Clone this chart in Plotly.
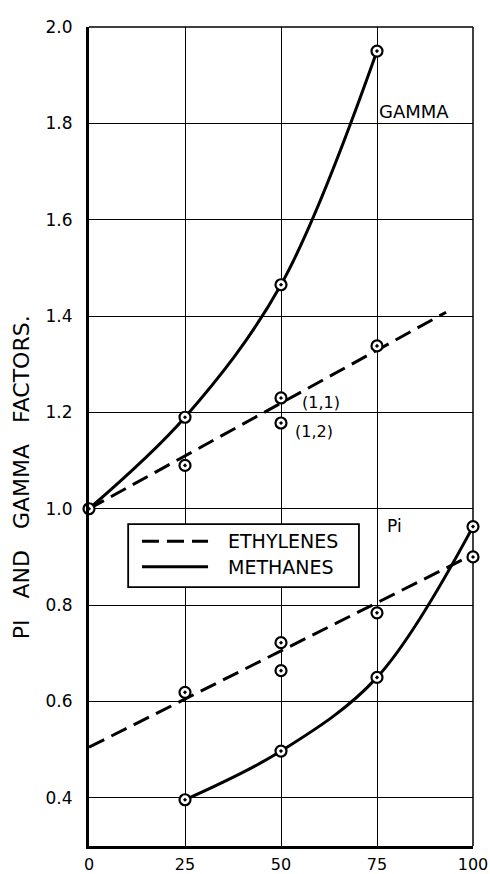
import plotly.graph_objects as go

# Concentration axis (percent) and measured factors
conc = [0, 25, 50, 75, 100]

# Gamma factors
gamma_methane_x = [0, 25, 50, 75]
gamma_methane_y = [1.00, 1.19, 1.465, 1.95]
gamma_ethylene_x = [25, 50, 50, 75]
gamma_ethylene_y = [1.09, 1.23, 1.178, 1.338]
gamma_ethylene_fit_x = [0, 93]
gamma_ethylene_fit_y = [1.00, 1.408]

# Pi factors
pi_methane_x = [25, 50, 75, 100]
pi_methane_y = [0.396, 0.497, 0.65, 0.963]
pi_ethylene_x = [25, 50, 50, 75, 100]
pi_ethylene_y = [0.619, 0.722, 0.664, 0.784, 0.90]
pi_ethylene_fit_x = [0, 100]
pi_ethylene_fit_y = [0.505, 0.905]

y_ticks = [0.4, 0.6, 0.8, 1.0, 1.2, 1.4, 1.6, 1.8, 2.0]
y_tick_text = ["0.4", "0.6", "0.8", "1.0", "1.2", "1.4", "1.6", "1.8", "2.0"]
x_tick_text = ["0", "25", "50", "75", "100"]

FONT = "DejaVu Sans"
INK = "black"
DASH = "17px,8px"

marker_style = dict(symbol="circle-dot", size=11, color="white",
                    line=dict(color=INK, width=2.2))

fig = go.Figure()

# Curves and fitted lines
fig.add_trace(go.Scatter(x=gamma_methane_x, y=gamma_methane_y, mode="lines",
                         line=dict(color=INK, width=3, shape="spline", smoothing=1.0),
                         hoverinfo="skip"))
fig.add_trace(go.Scatter(x=gamma_ethylene_fit_x, y=gamma_ethylene_fit_y, mode="lines",
                         line=dict(color=INK, width=3, dash=DASH), hoverinfo="skip"))
fig.add_trace(go.Scatter(x=pi_methane_x, y=pi_methane_y, mode="lines",
                         line=dict(color=INK, width=3, shape="spline", smoothing=1.0),
                         hoverinfo="skip"))
fig.add_trace(go.Scatter(x=pi_ethylene_fit_x, y=pi_ethylene_fit_y, mode="lines",
                         line=dict(color=INK, width=3, dash=DASH), hoverinfo="skip"))

# Measured points
for xs, ys in [(gamma_methane_x, gamma_methane_y), (gamma_ethylene_x, gamma_ethylene_y),
               (pi_methane_x, pi_methane_y), (pi_ethylene_x, pi_ethylene_y)]:
    fig.add_trace(go.Scatter(x=xs, y=ys, mode="markers", marker=marker_style,
                             cliponaxis=False))

# Thin frame on the top and right, legend box drawn as layout shapes
shapes = [
    dict(type="line", xref="paper", yref="paper", x0=0, x1=1, y0=1, y1=1,
         line=dict(color=INK, width=1.5), layer="below"),
    dict(type="line", xref="paper", yref="paper", x0=1, x1=1, y0=0, y1=1,
         line=dict(color=INK, width=1.5), layer="below"),
    dict(type="rect", xref="paper", yref="paper", x0=0.102, x1=0.703, y0=0.316, y1=0.393,
         fillcolor="white", line=dict(color=INK, width=1.8), layer="above"),
    dict(type="line", xref="paper", yref="paper", x0=0.138, x1=0.310, y0=0.372, y1=0.372,
         line=dict(color=INK, width=3, dash=DASH), layer="above"),
    dict(type="line", xref="paper", yref="paper", x0=0.138, x1=0.310, y0=0.341, y1=0.341,
         line=dict(color=INK, width=3), layer="above"),
]

annotations = [
    dict(text="ETHYLENES", xref="paper", yref="paper", x=0.357, y=0.372, xanchor="left",
         yanchor="middle", showarrow=False, font=dict(family=FONT, size=19, color=INK)),
    dict(text="METHANES", xref="paper", yref="paper", x=0.357, y=0.341, xanchor="left",
         yanchor="middle", showarrow=False, font=dict(family=FONT, size=19, color=INK)),
    dict(text="GAMMA", x=75, y=1.825, xanchor="left", yanchor="middle", showarrow=False,
         font=dict(family=FONT, size=18, color=INK)),
    dict(text="Pi", x=77, y=0.965, xanchor="left", yanchor="middle", showarrow=False,
         font=dict(family=FONT, size=17, color=INK)),
    dict(text="(1,1)", x=55, y=1.22, xanchor="left", yanchor="middle", showarrow=False,
         font=dict(family=FONT, size=16, color=INK)),
    dict(text="(1,2)", x=53, y=1.16, xanchor="left", yanchor="middle", showarrow=False,
         font=dict(family=FONT, size=16, color=INK)),
    dict(text="PI   AND   GAMMA   FACTORS.", xref="paper", yref="paper", x=-0.175, y=0.45,
         xanchor="center", yanchor="middle", textangle=-90, showarrow=False,
         font=dict(family=FONT, size=22, color=INK)),
]

fig.update_layout(
    width=490, height=874,
    margin=dict(l=89, r=17, t=27, b=28),
    paper_bgcolor="white", plot_bgcolor="white",
    showlegend=False,
    shapes=shapes, annotations=annotations,
    font=dict(family=FONT, color=INK),
)

fig.update_xaxes(range=[0, 100], tickvals=conc, ticktext=x_tick_text,
                 showgrid=True, gridcolor=INK, gridwidth=1.2, zeroline=False,
                 showline=True, linecolor=INK, linewidth=3, mirror=False,
                 ticks="", ticklabelstandoff=2, automargin=False,
                 tickfont=dict(family=FONT, size=16, color=INK))
fig.update_yaxes(range=[0.3, 2.0], tickvals=y_ticks, ticktext=y_tick_text,
                 showgrid=True, gridcolor=INK, gridwidth=1.2, zeroline=False,
                 showline=True, linecolor=INK, linewidth=3, mirror=False,
                 ticks="", ticklabelstandoff=10, automargin=False,
                 tickfont=dict(family=FONT, size=17, color=INK))

fig.write_html("out.html")
